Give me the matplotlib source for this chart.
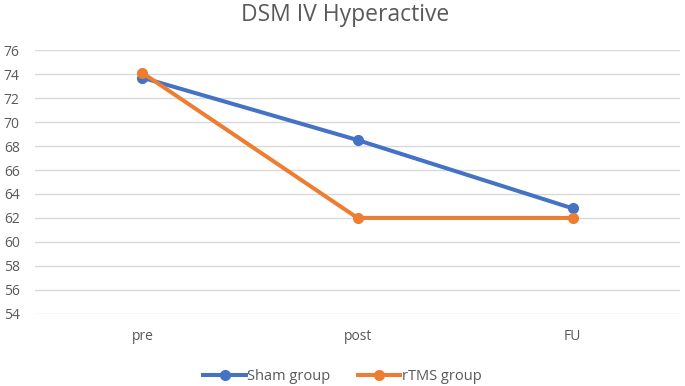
import matplotlib
matplotlib.use("Agg")
import matplotlib.pyplot as plt

# data
categories = ["pre", "post", "FU"]
sham = [73.7, 68.5, 62.8]
rtms = [74.1, 62.0, 62.0]
yticks = list(range(54, 77, 2))

plt.rcParams['font.family'] = ['Open Sans', 'DejaVu Sans']

fig = plt.figure(figsize=(6.85, 3.86), dpi=100)
ax = fig.add_axes([0.051, 0.187, 0.942, 0.683])

x = range(len(categories))
ax.plot(x, sham, color='#4472C4', lw=2.9, marker='o', ms=7, label='Sham group', zorder=3)
ax.plot(x, rtms, color='#ED7D31', lw=2.9, marker='o', ms=7, label='rTMS group', zorder=4)

ax.set_xlim(-0.5, 2.5)
ax.set_ylim(54, 76)
ax.set_yticks(yticks)
ax.set_xticks(list(x))
ax.set_xticklabels(categories)
ax.grid(axis='y', color='#D9D9D9', lw=1)
ax.set_axisbelow(True)
for sp in ax.spines.values():
    sp.set_visible(False)
ax.tick_params(length=0, colors='#595959', labelsize=10)
ax.tick_params(axis='x', pad=11)
ax.tick_params(axis='y', pad=11)

fig.text(0.504, 0.962, "DSM IV Hyperactive", ha='center', va='center',
         fontsize=16.5, color='#595959')

fig.legend(loc='center', bbox_to_anchor=(0.5, 0.025), ncol=2, frameon=False,
           fontsize=10.5, labelcolor='#595959', handlelength=2.9,
           handletextpad=0.1, columnspacing=1.9)

fig.savefig("out.png", dpi=100)
